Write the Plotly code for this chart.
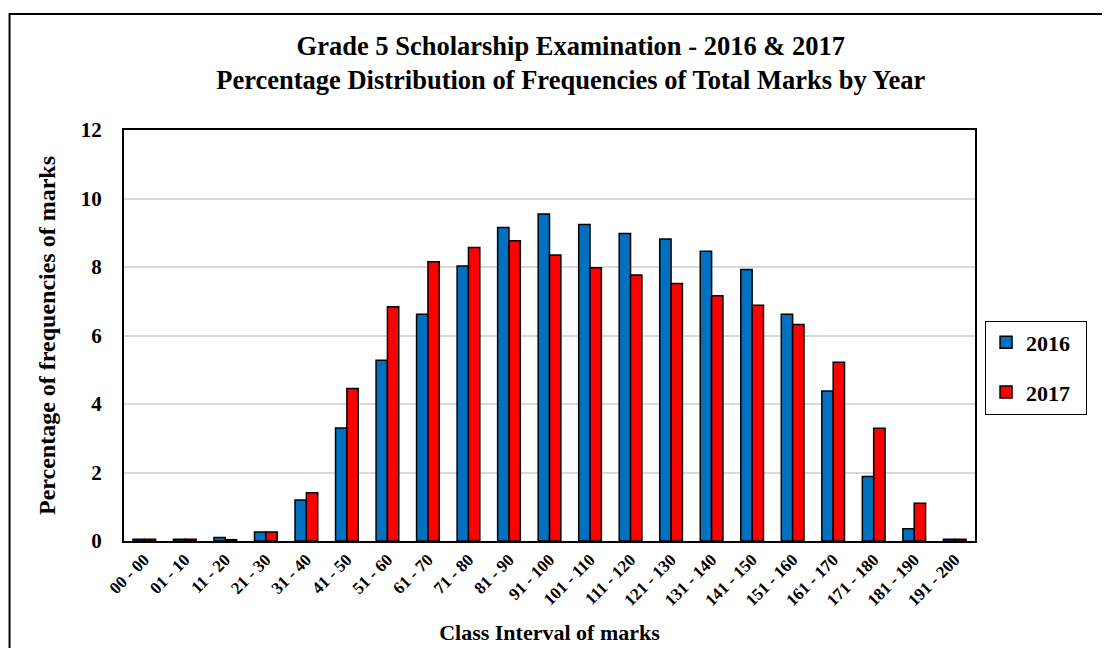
import plotly.graph_objects as go

categories = ['00 - 00', '01 - 10', '11 - 20', '21 - 30', '31 - 40', '41 - 50', '51 - 60',
              '61 - 70', '71 - 80', '81 - 90', '91 - 100', '101 - 110', '111 - 120',
              '121 - 130', '131 - 140', '141 - 150', '151 - 160', '161 - 170',
              '171 - 180', '181 - 190', '191 - 200']
pct_2016 = [0.05, 0.05, 0.1, 0.26, 1.2, 3.3, 5.28, 6.62, 8.03, 9.15, 9.55, 9.24, 8.98,
            8.82, 8.46, 7.93, 6.62, 4.38, 1.88, 0.36, 0.05]
pct_2017 = [0.05, 0.05, 0.04, 0.26, 1.41, 4.45, 6.84, 8.15, 8.57, 8.77, 8.35, 7.98, 7.77,
            7.52, 7.16, 6.88, 6.32, 5.22, 3.29, 1.1, 0.05]

serif = 'Liberation Serif'

fig = go.Figure()
fig.add_trace(go.Bar(
    x=categories, y=pct_2016, name='<b>2016</b>&nbsp;&nbsp;', legendgroup='a',
    marker=dict(color='#0070c0', line=dict(color='black', width=1.5))
))
fig.add_trace(go.Bar(
    x=categories, y=pct_2017, name='<b>2017</b>&nbsp;&nbsp;', legendgroup='b',
    marker=dict(color='#ff0000', line=dict(color='black', width=1.5))
))

# outer frame of the whole chart (right and bottom edges fall outside the picture)
shapes = [dict(type='rect', xref='paper', yref='paper',
               x0=-0.1345, x1=1.3, y0=-0.5, y1=1.282,
               line=dict(color='black', width=2), layer='below')]

fig.update_layout(
    width=1110, height=648,
    margin=dict(l=116, r=143, t=122, b=115),
    paper_bgcolor='white', plot_bgcolor='white',
    font=dict(family=serif, color='black', size=16),
    title=dict(
        text='<b>Grade 5 Scholarship Examination - 2016 &amp; 2017<br>'
             'Percentage Distribution of Frequencies of Total Marks by Year</b>',
        x=0.507, xanchor='center', y=0.928, yanchor='middle',
        font=dict(family=serif, size=26.5, color='black')
    ),
    barmode='group', bargap=0.44, bargroupgap=0,
    xaxis=dict(
        title=dict(text='<b>Class Interval of marks</b>', font=dict(size=22), standoff=16),
        tickangle=-45, tickfont=dict(size=17, family=serif),
        tickprefix='<b>', ticksuffix='</b>',
        showline=True, linecolor='black', linewidth=2, mirror=True,
        ticks='', showgrid=False
    ),
    yaxis=dict(
        title=dict(text='<b>Percentage of frequencies of marks</b>', font=dict(size=24), standoff=18),
        range=[0, 12], dtick=2, tickfont=dict(size=21, family=serif),
        tickprefix='<b>', ticksuffix='</b>', ticklabelstandoff=16,
        showline=True, linecolor='black', linewidth=2, mirror=True,
        gridcolor='#d9d9d9', gridwidth=1.5, zeroline=False, ticks=''
    ),
    legend=dict(
        x=1.0118, xanchor='left', y=0.422, yanchor='middle',
        bordercolor='black', borderwidth=1, font=dict(size=22, family=serif),
        tracegroupgap=18, itemwidth=30
    ),
    shapes=shapes
)

fig.write_html('out.html')
